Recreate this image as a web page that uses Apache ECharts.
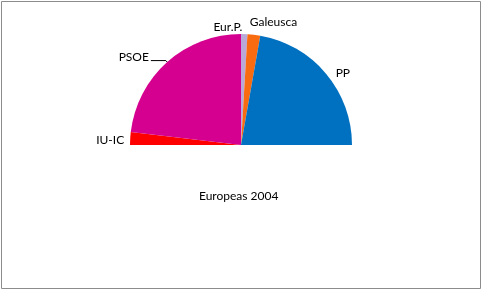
<!DOCTYPE html>
<html><head><meta charset="utf-8">
<script src="https://cdn.jsdelivr.net/npm/echarts@6/dist/echarts.min.js"></script>
<style>html,body{margin:0;padding:0;background:#fff}#c{width:483px;height:291px}</style>
</head><body><div id="c"></div>
<script>
const categories = ['IU-IC', 'PSOE', 'Eur.P.', 'Galeusca', 'PP'];
const seats = [2, 25, 1, 2, 24];
const colors = ['#FF0000', '#D5008F', '#B8A9D9', '#F96B10', '#0070C0'];
const titleText = 'Europeas 2004';

const chart = echarts.init(document.getElementById('c'), null, {renderer: 'canvas'});
const font = 'Lato, "Open Sans", sans-serif';
const labelOffsets = [
  {dx: 16, dy: 2},
  {dx: 0, dy: -3},
  {dx: -47, dy: -1},
  {dx: -61, dy: -20},
  {dx: -9, dy: 3}
];
chart.setOption({
  animation: false,
  backgroundColor: '#fff',
  title: {
    text: titleText, left: 194, top: 185,
    textStyle: {fontFamily: font, fontSize: 12, fontWeight: 'normal', color: '#000'}
  },
  graphic: [{
    type: 'rect', shape: {x: 1.5, y: 1.5, width: 479, height: 287},
    style: {fill: null, stroke: '#8c8c8c', lineWidth: 1}, silent: true
  }],
  series: [{
    type: 'pie',
    center: [241, 145],
    radius: [0, 111],
    startAngle: 180,
    endAngle: 0,
    clockwise: true,
    data: categories.map((c, i) => ({
      name: c, value: seats[i],
      itemStyle: {color: colors[i]},
      labelLine: c === 'PSOE' ? {show: true, length: 2, length2: 15} : {show: false}
    })),
    itemStyle: {borderWidth: 0},
    label: {
      show: true, position: 'outside', formatter: '{b}',
      fontFamily: font, fontSize: 12, color: '#000', distanceToLabelLine: 2
    },
    labelLine: {show: true, length: 6, length2: 14, lineStyle: {color: '#000', width: 1}},
    labelLayout: function (p) { return labelOffsets[p.dataIndex]; }
  }]
});
</script></body></html>
